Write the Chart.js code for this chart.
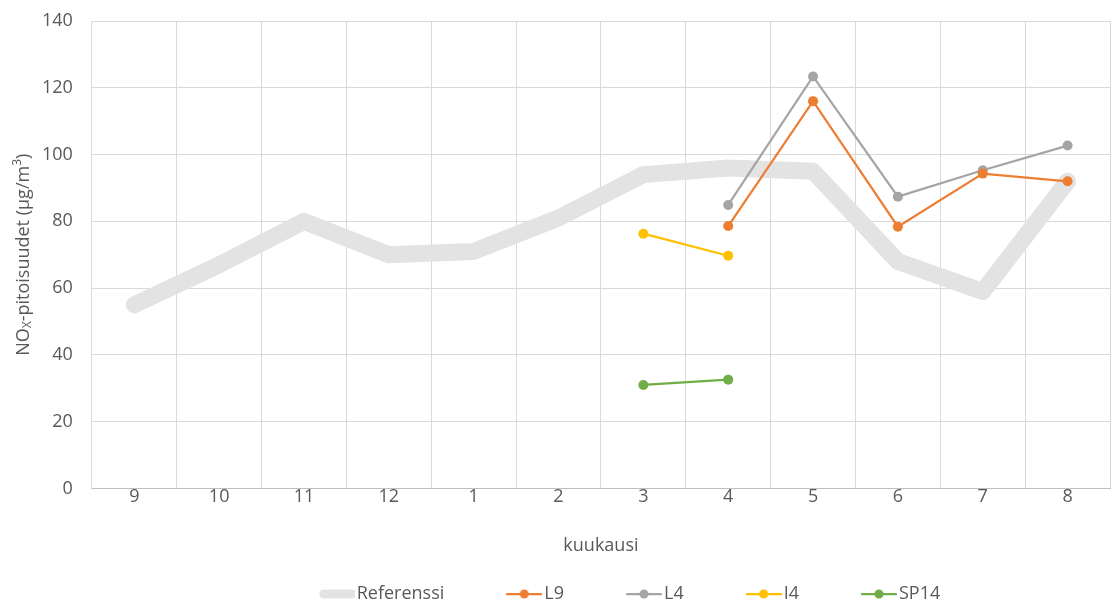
<!DOCTYPE html>
<html>
<head>
<meta charset="utf-8">
<title>NOx-pitoisuudet</title>
<script src="https://cdn.jsdelivr.net/npm/chart.js@4.4.1/dist/chart.umd.min.js"></script>
<style>
  html, body { margin: 0; padding: 0; background: #ffffff; }
  #wrap { width: 1117px; height: 606px; }
</style>
</head>
<body>
<div id="wrap"><canvas id="noxChart" width="1117" height="606"></canvas></div>
<script>
// Kuukaudet (syyskuu -> elokuu)
const months = ['9', '10', '11', '12', '1', '2', '3', '4', '5', '6', '7', '8'];

// Mittaussarjat, µg/m3
const referenssi = [55, 67, 80, 70, 71, 81, 94, 96, 95, 68, 59, 92];
const l9 = [null, null, null, null, null, null, null, 78.6, 116, 78.4, 94.3, 92];
const l4 = [null, null, null, null, null, null, null, 84.9, 123.4, 87.4, 95.3, 102.7];
const i4 = [null, null, null, null, null, null, 76.3, 69.7, null, null, null, null];
const sp14 = [null, null, null, null, null, null, 31, 32.6, null, null, null, null];

const yTicks = [0, 20, 40, 60, 80, 100, 120, 140];

const FONT = "'Open Sans', 'Noto Sans', sans-serif";
const FONT_SIZE = 18;
const TEXT_COLOR = '#595959';
const GRID_COLOR = '#d9d9d9';

// Legendan viivasymboli (viiva + pallo keskellä)
function legendSwatch(color, thick) {
  const c = document.createElement('canvas');
  c.width = 36;
  c.height = 12;
  const g = c.getContext('2d');
  g.strokeStyle = color;
  g.lineCap = 'round';
  if (thick) {
    g.lineWidth = 9;
    g.beginPath();
    g.moveTo(5, 6);
    g.lineTo(33, 6);
    g.stroke();
  } else {
    g.lineWidth = 2.25;
    g.beginPath();
    g.moveTo(1, 6);
    g.lineTo(35, 6);
    g.stroke();
    g.fillStyle = color;
    g.beginPath();
    g.arc(18, 6, 4.5, 0, Math.PI * 2);
    g.fill();
  }
  return c;
}

function seriesDataset(label, data, color) {
  return {
    label: label,
    data: data,
    borderColor: color,
    backgroundColor: color,
    borderWidth: 2.25,
    pointRadius: 5,
    pointHoverRadius: 5,
    pointBorderWidth: 0,
    pointStyle: 'circle',
    tension: 0,
    spanGaps: false,
    order: 1,
    legendStyle: legendSwatch(color, false)
  };
}

// Y-akselin otsikko alaindeksillä ja yläindeksillä
const yTitlePlugin = {
  id: 'yTitle',
  afterDraw(chart) {
    const ctx = chart.ctx;
    const area = chart.chartArea;
    const big = FONT_SIZE + 'px ' + FONT;
    const small = '12px ' + FONT;
    const parts = [
      { t: 'NO', f: big, dy: 0 },
      { t: 'X', f: small, dy: 4 },
      { t: '-pitoisuudet (µg/m', f: big, dy: 0 },
      { t: '3', f: small, dy: -6 },
      { t: ')', f: big, dy: 0 }
    ];
    ctx.save();
    let total = 0;
    parts.forEach(p => { ctx.font = p.f; p.w = ctx.measureText(p.t).width; total += p.w; });
    ctx.translate(24, (area.top + area.bottom) / 2);
    ctx.rotate(-Math.PI / 2);
    ctx.fillStyle = TEXT_COLOR;
    ctx.textBaseline = 'middle';
    ctx.textAlign = 'left';
    let x = -total / 2;
    parts.forEach(p => {
      ctx.font = p.f;
      ctx.fillText(p.t, x, p.dy);
      x += p.w;
    });
    ctx.restore();
  }
};

// Selite hieman oikealle, kuvaajan alle
const legendShift = {
  id: 'legendShift',
  afterLayout(chart) {
    if (chart.legend) {
      chart.legend.left += 58;
      chart.legend.right += 58;
    }
  }
};

const whiteBg = {
  id: 'whiteBg',
  beforeDraw(chart) {
    const ctx = chart.ctx;
    ctx.save();
    ctx.fillStyle = '#ffffff';
    ctx.fillRect(0, 0, chart.width, chart.height);
    ctx.restore();
  }
};

const ctx = document.getElementById('noxChart').getContext('2d');
new Chart(ctx, {
  type: 'line',
  data: {
    labels: months,
    datasets: [
      {
        label: 'Referenssi',
        data: referenssi,
        borderColor: '#e3e3e3',
        backgroundColor: '#e3e3e3',
        borderWidth: 17,
        borderCapStyle: 'round',
        borderJoinStyle: 'round',
        pointRadius: 0,
        pointHoverRadius: 0,
        tension: 0,
        order: 5,
        legendStyle: legendSwatch('#e3e3e3', true)
      },
      seriesDataset('L9', l9, '#ed7d31'),
      seriesDataset('L4', l4, '#a5a5a5'),
      seriesDataset('I4', i4, '#ffc000'),
      seriesDataset('SP14', sp14, '#70ad47')
    ]
  },
  options: {
    responsive: false,
    animation: false,
    layout: { padding: { left: 40, right: 7, top: 21, bottom: -7 } },
    plugins: {
      tooltip: { enabled: false },
      legend: {
        position: 'bottom',
        labels: {
          color: TEXT_COLOR,
          font: { size: FONT_SIZE, family: FONT },
          usePointStyle: true,
          pointStyleWidth: 22,
          padding: 69,
          generateLabels(chart) {
            return chart.data.datasets.map((ds, i) => ({
              text: ds.label,
              pointStyle: ds.legendStyle,
              fontColor: TEXT_COLOR,
              hidden: false,
              lineWidth: 0,
              strokeStyle: 'transparent',
              fillStyle: 'transparent',
              datasetIndex: i
            }));
          }
        }
      }
    },
    scales: {
      x: {
        offset: true,
        grid: { offset: true, color: GRID_COLOR, lineWidth: 1, drawTicks: false },
        border: { color: '#bfbfbf', width: 1 },
        ticks: { color: TEXT_COLOR, font: { size: FONT_SIZE, family: FONT }, padding: -2, maxRotation: 0 },
        title: {
          display: true,
          text: 'kuukausi',
          color: TEXT_COLOR,
          font: { size: FONT_SIZE, family: FONT },
          padding: { top: 28.6, bottom: -40.3 }
        }
      },
      y: {
        min: 0,
        max: 140,
        afterBuildTicks(axis) {
          axis.ticks = yTicks.map(v => ({ value: v }));
        },
        grid: { color: GRID_COLOR, lineWidth: 1, drawTicks: true, tickLength: 17, tickColor: 'rgba(0,0,0,0)' },
        border: { color: GRID_COLOR, width: 1 },
        ticks: { color: TEXT_COLOR, font: { size: FONT_SIZE, family: FONT }, padding: 2 }
      }
    }
  },
  plugins: [whiteBg, yTitlePlugin, legendShift]
});
</script>
</body>
</html>
